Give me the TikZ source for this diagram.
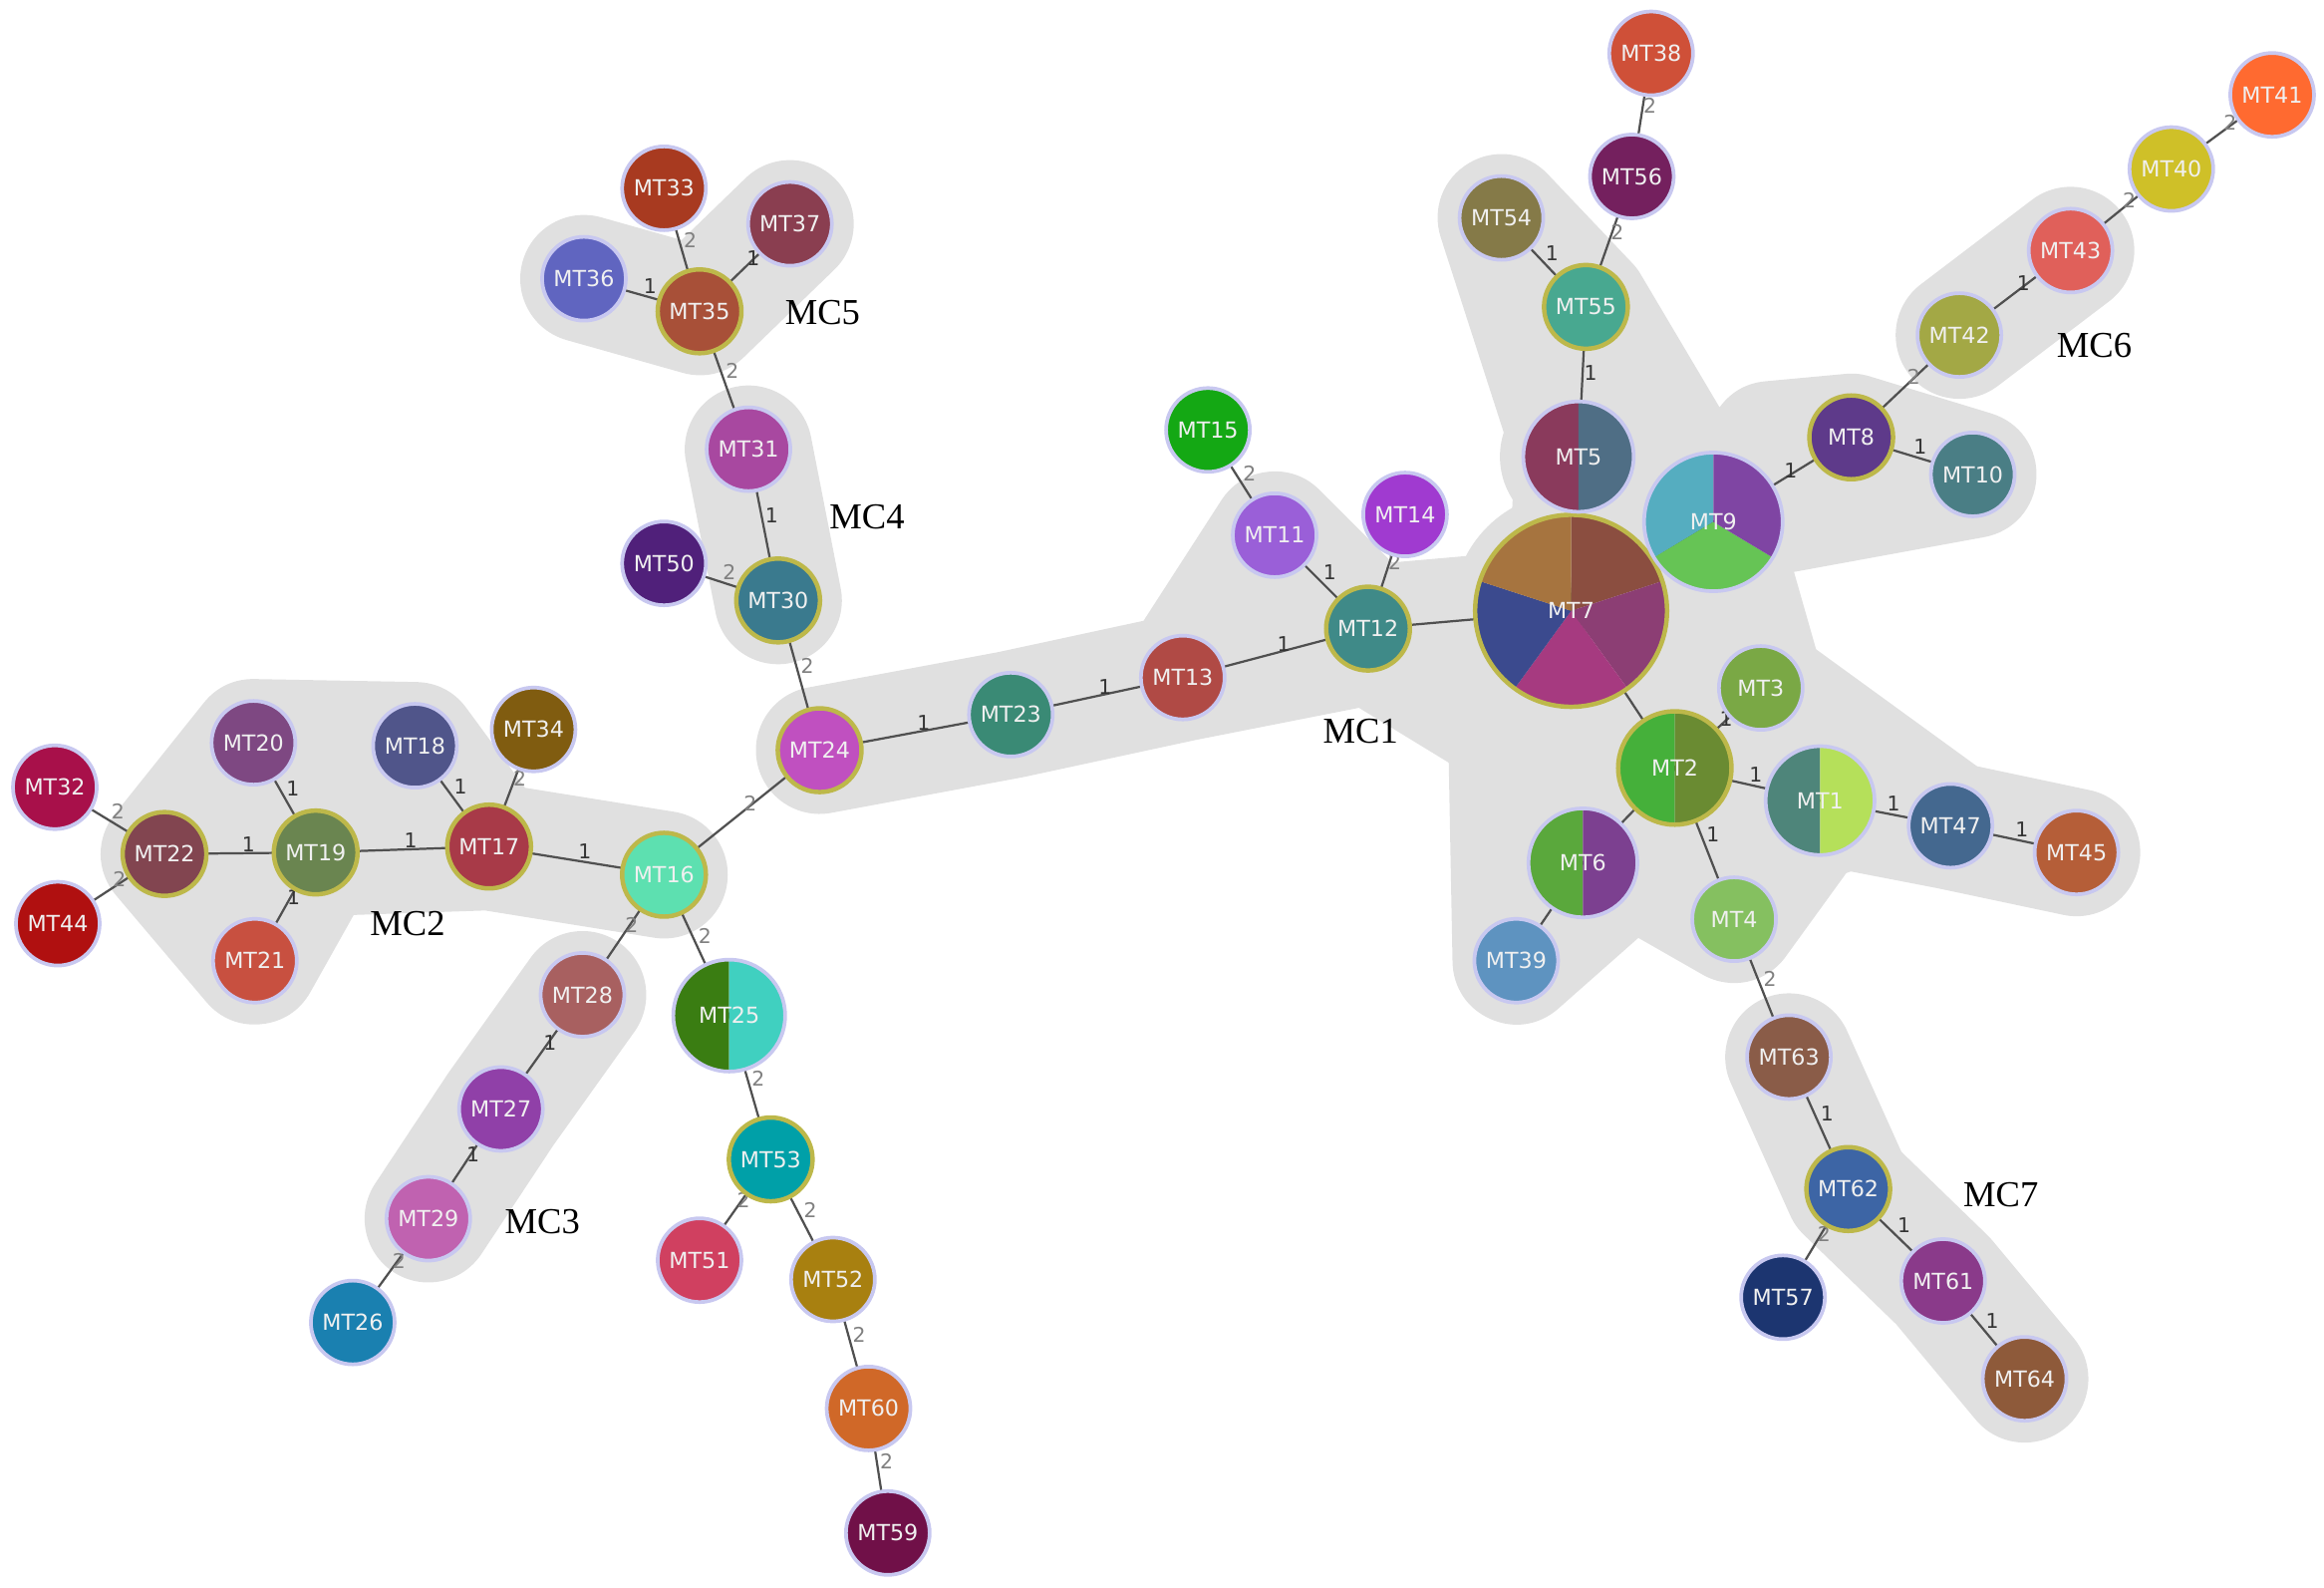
\documentclass[tikz,border=0pt]{standalone}
\usepackage{fontspec}
\newfontfamily\mtfont{DejaVu Sans}
\newfontfamily\mcfont{Liberation Serif}
\definecolor{hullgray}{HTML}{E0E0E0}
\definecolor{ringlav}{HTML}{C8C8F0}
\definecolor{ringgold}{HTML}{BDB84A}
\definecolor{linkgray}{HTML}{505050}
\pgfdeclarelayer{hulls}
\pgfdeclarelayer{links}
\pgfdeclarelayer{pies}
\pgfsetlayers{hulls,links,pies,main}
\tikzset{
  mt/.style={circle, draw=ringlav, line width=0.5mm, minimum size=11.3mm, inner sep=0pt,
    text=white!94!black, font=\mtfont\fontsize{8.5}{10}\selectfont},
  mtgold/.style={mt, draw=ringgold, line width=0.6mm},
  link/.style={draw=linkgray, line width=0.3mm},
  dist/.style={anchor=south west, inner sep=0.3pt, font=\mtfont\fontsize{7.8}{9}\selectfont},
  distone/.style={dist, text=black!80},
  disttwo/.style={dist, text=black!50},
  hull/.style={draw=hullgray, line width=17.2mm, line join=round, line cap=round},
  mclabel/.style={font=\mcfont\fontsize{14}{16}\selectfont}
}
\newcommand\slice[5]{% node, radius, from, to, colour
  \definecolor{slicecol}{HTML}{#5}
  \fill[slicecol] (#1.center) -- ++(#3:#2) arc[start angle=#3, end angle=#4, radius=#2] -- cycle;
}

\begin{document}
\begin{tikzpicture}[x=0.2mm, y=-0.2mm]
\useasboundingbox (0,0) rectangle (1568,1071);

\foreach \nm/\x/\y/\col in {MT38/1114/36/CF5038, MT56/1101/119/74205E, MT54/1013/147/857A48,
  MT41/1533/64/FF6A30, MT40/1465/114/CFC028, MT43/1397/169/E0605A, MT42/1322/226/A3A845,
  MT10/1331/320/4A7E85, MT15/815/290/14A814, MT11/860/361/9A5FD8, MT14/948/347/A03AD0,
  MT3/1188/464/7AA845, MT47/1316/557/44688F, MT45/1401/575/B55E38, MT39/1023/648/5E93C0,
  MT4/1170/620/85C060, MT63/1207/713/8A5C48, MT57/1203/875/1C3570, MT61/1311/864/8A3A8A,
  MT64/1366/930/8E5A3A, MT13/798/457/B04A45, MT23/682/482/3A8A75, MT50/448/380/50207A,
  MT31/505/303/A848A0, MT36/394/188/6065C0, MT33/448/127/A83A20, MT37/533/151/8A3E50,
  MT34/360/492/805C10, MT18/280/503/50558A, MT20/171/501/7E4882, MT21/172/648/C85040,
  MT32/37/531/A8104A, MT44/39/623/B01010, MT28/393/671/A86060, MT27/338/748/9040A8,
  MT29/289/822/C062B0, MT26/238/892/1A80B0, MT51/472/850/D04060, MT52/562/863/A88010,
  MT60/586/950/D06828, MT59/599/1034/701048}
{
  \edef\mkcol{\noexpand\definecolor{nodecol}{HTML}{\col}}\mkcol
  \node[mt, fill=nodecol] (\nm) at (\x,\y) {\nm};
}
\foreach \nm/\x/\y/\col in {MT55/1070/207/48A890, MT8/1249/295/5E3A8A, MT12/923/424/3F8A88,
  MT62/1247/802/3D65A5, MT24/553/506/C050C0, MT30/525/405/3A7A8E, MT35/472/210/A85038,
  MT16/448/590/5DE0B0, MT17/330/571/A83A48, MT19/213/575/6A8550, MT22/111/576/824550,
  MT53/520/782/00A0A8}
{
  \edef\mkcol{\noexpand\definecolor{nodecol}{HTML}{\col}}\mkcol
  \node[mtgold, fill=nodecol] (\nm) at (\x,\y) {\nm};
}

\node[mtgold, minimum size=25.9mm] (MT7) at (1060,412) {MT7};
\node[mt, minimum size=18.7mm] (MT9) at (1156,352) {MT9};
\node[mt, minimum size=14.9mm] (MT5) at (1065,308) {MT5};
\node[mtgold, minimum size=15.3mm] (MT2) at (1130,518) {MT2};
\node[mt, minimum size=14.7mm] (MT1) at (1228,540) {MT1};
\node[mt, minimum size=14.7mm] (MT6) at (1068,582) {MT6};
\node[mt, minimum size=15.1mm] (MT25) at (492,685) {MT25};

\begin{pgfonlayer}{pies}
\slice{MT7}{12.95mm}{18}{90}{8B4E40}
\slice{MT7}{12.95mm}{-54}{18}{8C3E74}
\slice{MT7}{12.95mm}{-126}{-54}{A63A80}
\slice{MT7}{12.95mm}{162}{234}{3B4A8E}
\slice{MT7}{12.95mm}{90}{162}{A6743F}
\slice{MT9}{9.35mm}{90}{211}{55ADC0}
\slice{MT9}{9.35mm}{211}{329}{66C455}
\slice{MT9}{9.35mm}{-31}{90}{7F45A3}
\slice{MT5}{7.45mm}{90}{270}{8A3A5C}
\slice{MT5}{7.45mm}{-90}{90}{4F6E85}
\slice{MT2}{7.65mm}{90}{270}{45B03A}
\slice{MT2}{7.65mm}{-90}{90}{6A8B32}
\slice{MT1}{7.35mm}{90}{270}{4E857A}
\slice{MT1}{7.35mm}{-90}{90}{B5E05A}
\slice{MT6}{7.35mm}{90}{270}{5AA83C}
\slice{MT6}{7.35mm}{-90}{90}{7C4090}
\slice{MT25}{7.55mm}{90}{270}{3A7D12}
\slice{MT25}{7.55mm}{-90}{90}{40D0C0}
\end{pgfonlayer}

\begin{pgfonlayer}{links}
\foreach \a/\b in {MT54/MT55, MT55/MT5, MT43/MT42, MT8/MT9, MT8/MT10, MT11/MT12, MT13/MT12,
  MT23/MT13, MT24/MT23, MT31/MT30, MT36/MT35, MT37/MT35, MT16/MT17, MT17/MT19, MT17/MT18,
  MT19/MT20, MT19/MT21, MT19/MT22, MT28/MT27, MT27/MT29, MT2/MT3, MT2/MT1, MT2/MT4,
  MT1/MT47, MT47/MT45, MT63/MT62, MT62/MT61, MT61/MT64}
  \draw[link] (\a.center) -- node[distone]{1} (\b.center);
\foreach \a/\b in {MT38/MT56, MT56/MT55, MT41/MT40, MT40/MT43, MT42/MT8, MT15/MT11, MT14/MT12,
  MT30/MT24, MT50/MT30, MT35/MT31, MT33/MT35, MT24/MT16, MT17/MT34, MT22/MT32, MT22/MT44,
  MT16/MT28, MT16/MT25, MT29/MT26, MT25/MT53, MT53/MT51, MT53/MT52, MT52/MT60, MT60/MT59,
  MT4/MT63, MT62/MT57}
  \draw[link] (\a.center) -- node[disttwo]{2} (\b.center);
\foreach \a/\b in {MT5/MT7, MT9/MT7, MT12/MT7, MT7/MT2, MT2/MT6, MT6/MT39}
  \draw[link] (\a.center) -- (\b.center);
\end{pgfonlayer}

\coordinate (mc1a) at (1195,300);
\coordinate (mc1b) at (1100,580);
\coordinate (mc1c) at (1020,490);
\coordinate (mc1d) at (925,432);
\begin{pgfonlayer}{hulls}
\filldraw[hull, fill=hullgray] (MT24.center) -- (MT23.center) -- (MT13.center) -- (MT11.center)
  -- (MT12.center) -- (MT7.center) -- (MT5.center) -- (MT54.center) -- (MT55.center)
  -- (MT9.center) -- (mc1a) -- (MT8.center) -- (MT10.center) -- (MT9.center) -- (MT3.center)
  -- (MT47.center) -- (MT45.center) -- (MT47.center) -- (MT1.center) -- (MT4.center)
  -- (mc1b) -- (MT39.center) -- (mc1c) -- (mc1d) -- (MT13.center) -- (MT23.center) -- cycle;
\fill[hullgray] (MT7.center) circle[radius=16mm];
\fill[hullgray] (MT9.center) circle[radius=12.4mm];
\fill[hullgray] (MT5.center) circle[radius=10.6mm];
\fill[hullgray] (MT2.center) circle[radius=10.6mm];
\fill[hullgray] (MT1.center) circle[radius=10.4mm];
\fill[hullgray] (MT6.center) circle[radius=10.4mm];
\filldraw[hull, fill=hullgray] (MT22.center) -- (MT20.center) -- (MT18.center) -- (MT17.center)
  -- (MT16.center) -- (MT17.center) -- (MT19.center) -- (MT21.center) -- cycle;
\draw[hull] (MT28.center) -- (MT27.center) -- (MT29.center);
\draw[hull] (MT31.center) -- (MT30.center);
\draw[hull] (MT36.center) -- (MT35.center) -- (MT37.center);
\draw[hull] (MT43.center) -- (MT42.center);
\draw[hull] (MT63.center) -- (MT62.center) -- (MT61.center) -- (MT64.center);
\end{pgfonlayer}

\node[mclabel] (mc1) at (918,493) {MC1};
\node[mclabel] (mc2) at (275,623) {MC2};
\node[mclabel] (mc3) at (366,824) {MC3};
\node[mclabel] (mc4) at (585,349) {MC4};
\node[mclabel] (mc5) at (555,211) {MC5};
\node[mclabel] (mc6) at (1413,233) {MC6};
\node[mclabel] (mc7) at (1350,806) {MC7};
\end{tikzpicture}
\end{document}
